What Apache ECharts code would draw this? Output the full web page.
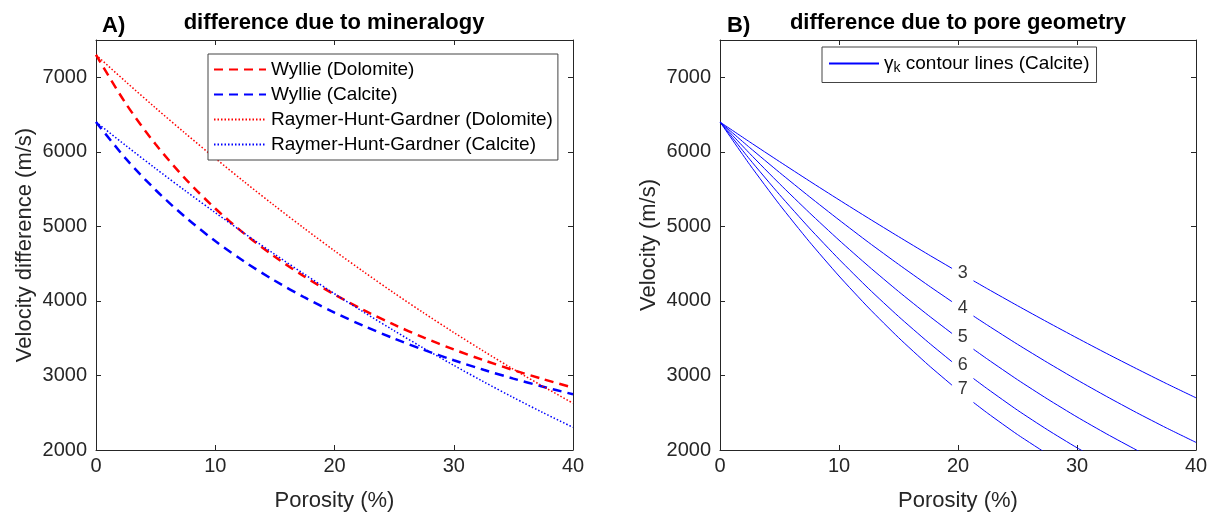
<!DOCTYPE html>
<html>
<head>
<meta charset="utf-8">
<script src="https://cdn.jsdelivr.net/npm/echarts@6/dist/echarts.min.js"></script>
<style>
  html, body { margin: 0; padding: 0; background: #fff; }
  #chart { width: 1212px; height: 517px; }
</style>
</head>
<body>
<div id="chart"></div>
<script>
// porosity (%) sample points, panel A
const porA = [0, 2.5, 5, 7.5, 10, 12.5, 15, 17.5, 20, 22.5, 25, 27.5, 30, 32.5, 35, 37.5, 40];
// velocities (m/s)
const wyllieDol = [7300, 6647, 6101, 5637, 5240, 4894, 4592, 4324, 4086, 3873, 3681, 3507, 3349, 3205, 3072, 2950, 2837];
const wyllieCal = [6400, 5909, 5488, 5123, 4803, 4521, 4270, 4046, 3844, 3661, 3495, 3343, 3204, 3076, 2958, 2849, 2747];
const rhgDol = [7300, 6940, 6588, 6246, 5913, 5589, 5274, 4969, 4672, 4385, 4106, 3837, 3577, 3326, 3084, 2852, 2628];
const rhgCal = [6400, 6084, 5776, 5476, 5184, 4900, 4624, 4356, 4096, 3844, 3600, 3364, 3136, 2916, 2704, 2500, 2304];

// panel B: porosity points, null where the contour label cuts the line
const porB = [0, 2.5, 5, 7.5, 10, 12.5, 15, 17.5, 19.5, 20.4, 21.3, 22.5, 25, 27.5, 30, 32.5, 35, 37.5, 40];
const gamma3 = [6400, 6132, 5869, 5610, 5356, 5107, 4863, 4623, 4436, null, 4270, 4160, 3936, 3717, 3503, 3294, 3091, 2892, 2700];
const gamma4 = [6400, 6056, 5723, 5400, 5087, 4783, 4491, 4208, 3989, null, 3797, 3672, 3418, 3175, 2941, 2717, 2502, 2297, 2102];
const gamma5 = [6400, 5977, 5572, 5185, 4815, 4463, 4127, 3807, 3563, null, 3352, 3216, 2943, 2686, 2443, 2215, 2000, 1799, null];
const gamma6 = [6400, 5899, 5426, 4979, 4559, 4163, 3792, 3445, 3183, null, 2959, 2817, 2534, 2273, 2030, 1805, null, null, null];
const gamma7 = [6400, 5828, 5293, 4796, 4334, 3905, 3508, 3141, 2869, null, 2638, 2492, 2207, 1947, null, null, null, null, null];
const gammaNames = ['3', '4', '5', '6', '7'];
const labelPor = 20.4;
const labelVel = [4380, 3910, 3510, 3140, 2820];

const xTicks = [0, 10, 20, 30, 40];
const yTicks = [2000, 3000, 4000, 5000, 6000, 7000];

const FONT = '"Liberation Sans", Arial, Helvetica, sans-serif';
const AX = '#262626';

const toPairs = (xs, ys) => xs.map((x, i) => [x, ys[i] == null ? '-' : ys[i]]);

function xAx(gridIndex, pos, name) {
  return {
    type: 'value', gridIndex: gridIndex, position: pos,
    min: xTicks[0], max: xTicks[xTicks.length - 1], interval: 10,
    name: pos === 'bottom' ? name : '', nameLocation: 'middle', nameGap: 40,
    nameTextStyle: { fontFamily: FONT, fontSize: 22, color: AX },
    axisLine: { show: true, onZero: false, lineStyle: { color: AX, width: 1 } },
    axisTick: { show: true, inside: true, length: 5, lineStyle: { color: AX } },
    axisLabel: { show: pos === 'bottom', margin: 6, fontFamily: FONT, fontSize: 20, color: AX },
    splitLine: { show: false }
  };
}
function yAx(gridIndex, pos, name) {
  return {
    type: 'value', gridIndex: gridIndex, position: pos,
    min: 2000, max: 7500, interval: 1000,
    name: pos === 'left' ? name : '', nameLocation: 'middle', nameGap: 60,
    nameTextStyle: { fontFamily: FONT, fontSize: 22, color: AX },
    axisLine: { show: true, onZero: false, lineStyle: { color: AX, width: 1 } },
    axisTick: { show: true, inside: true, length: 5, lineStyle: { color: AX } },
    axisLabel: {
      show: pos === 'left', margin: 9, fontFamily: FONT, fontSize: 20, color: AX,
      formatter: v => (yTicks.indexOf(v) >= 0 ? String(v) : '')
    },
    splitLine: { show: false }
  };
}

const chart = echarts.init(document.getElementById('chart'), null, { renderer: 'canvas' });

const seriesA = [
  { name: 'Wyllie (Dolomite)', data: wyllieDol, color: '#ff0000', width: 2.5, dash: [9, 6] },
  { name: 'Wyllie (Calcite)', data: wyllieCal, color: '#0000ff', width: 2.5, dash: [9, 6] },
  { name: 'Raymer-Hunt-Gardner (Dolomite)', data: rhgDol, color: '#ff0000', width: 1.5, dash: [1.5, 2] },
  { name: 'Raymer-Hunt-Gardner (Calcite)', data: rhgCal, color: '#0000ff', width: 1.5, dash: [1.5, 2] }
].map(s => ({
  name: s.name, type: 'line', xAxisIndex: 0, yAxisIndex: 0,
  data: toPairs(porA, s.data), symbol: 'none', smooth: 0.3,
  color: s.color,
  lineStyle: { color: s.color, width: s.width, type: s.dash }
}));

const gammaData = [gamma3, gamma4, gamma5, gamma6, gamma7];
const seriesB = gammaData.map(g => ({
  name: 'gammaK', type: 'line', xAxisIndex: 2, yAxisIndex: 2,
  data: toPairs(porB, g), symbol: 'none', smooth: 0.2, connectNulls: false,
  color: '#0000ff',
  lineStyle: { color: '#0000ff', width: 1 }
}));

const labelSeries = {
  type: 'scatter', xAxisIndex: 2, yAxisIndex: 2, silent: true,
  symbol: 'circle', symbolSize: 1, itemStyle: { color: 'rgba(0,0,0,0)' },
  data: labelVel.map((v, i) => [labelPor, v, gammaNames[i]]),
  label: {
    show: true, position: 'inside', formatter: p => p.value[2],
    fontFamily: FONT, fontSize: 18, color: '#000'
  }
};

chart.setOption({
  animation: false,
  backgroundColor: '#fff',
  grid: [
    { left: 96, top: 40, width: 477, height: 411 },
    { left: 720, top: 40, width: 476, height: 411 }
  ],
  xAxis: [
    xAx(0, 'bottom', 'Porosity (%)'), xAx(0, 'top', ''),
    xAx(1, 'bottom', 'Porosity (%)'), xAx(1, 'top', '')
  ],
  yAxis: [
    yAx(0, 'left', 'Velocity difference (m/s)'), yAx(0, 'right', ''),
    yAx(1, 'left', 'Velocity (m/s)'), yAx(1, 'right', '')
  ],
  legend: [
    {
      orient: 'vertical', left: 208, top: 54,
      data: seriesA.map(s => s.name),
      itemWidth: 52, itemHeight: 14, itemGap: 6,
      padding: [6, 5, 6, 5],
      itemStyle: { opacity: 0 },
      borderColor: '#444', borderWidth: 1, backgroundColor: '#fff',
      textStyle: { fontFamily: FONT, fontSize: 19, color: '#000' },
      selectedMode: false
    },
    {
      orient: 'vertical', left: 822, top: 47,
      data: ['gammaK'],
      itemWidth: 50, itemHeight: 14,
      padding: [7, 7, 7, 6],
      itemStyle: { opacity: 0 },
      borderColor: '#444', borderWidth: 1, backgroundColor: '#fff',
      selectedMode: false,
      formatter: () => '{g|γ}{k|k}{t| contour lines (Calcite)}',
      textStyle: {
        fontFamily: FONT, fontSize: 19, color: '#000',
        rich: {
          g: { fontFamily: FONT, fontSize: 19, lineHeight: 24, verticalAlign: 'middle', color: '#000' },
          k: { fontFamily: FONT, fontSize: 14, lineHeight: 24, verticalAlign: 'bottom', color: '#000' },
          t: { fontFamily: FONT, fontSize: 19, lineHeight: 24, verticalAlign: 'middle', color: '#000' }
        }
      }
    }
  ],
  graphic: [
    { type: 'text', x: 102, y: 26, style: { text: 'A)', font: 'bold 22px ' + FONT, fill: '#000', textAlign: 'left', textVerticalAlign: 'middle' } },
    { type: 'text', x: 334, y: 23, style: { text: 'difference due to mineralogy', font: 'bold 22px ' + FONT, fill: '#000', textAlign: 'center', textVerticalAlign: 'middle' } },
    { type: 'text', x: 727, y: 26, style: { text: 'B)', font: 'bold 22px ' + FONT, fill: '#000', textAlign: 'left', textVerticalAlign: 'middle' } },
    { type: 'text', x: 958, y: 23, style: { text: 'difference due to pore geometry', font: 'bold 22px ' + FONT, fill: '#000', textAlign: 'center', textVerticalAlign: 'middle' } }
  ],
  series: seriesA.concat(seriesB, [labelSeries])
});
</script>
</body>
</html>
